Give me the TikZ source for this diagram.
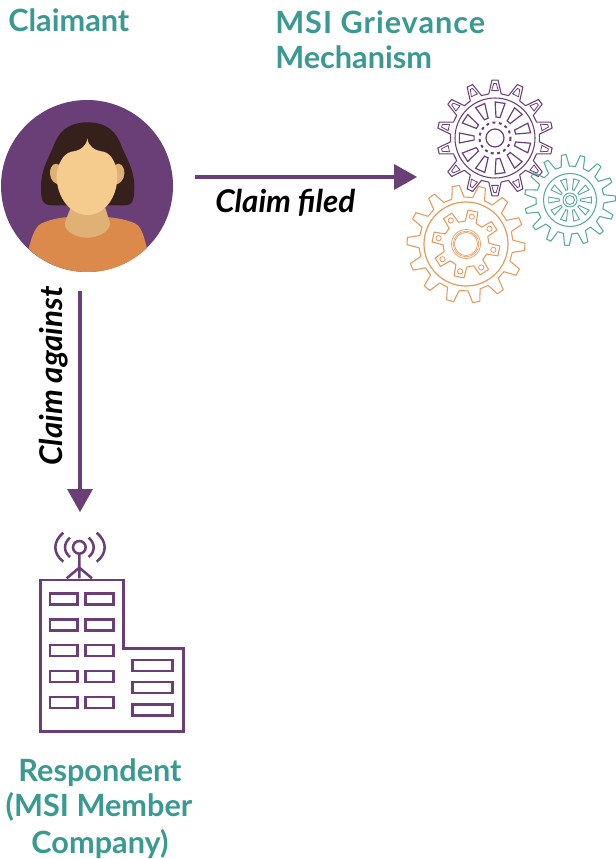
\documentclass[tikz,border=0pt]{standalone}
\usepackage{fontspec}
\setmainfont{Lato}
\definecolor{pur}{HTML}{6A3F77}
\definecolor{teal2}{HTML}{3A9A92}
\definecolor{org}{HTML}{E39A5F}
\definecolor{body}{HTML}{DC8A4B}
\definecolor{hair}{HTML}{36201B}
\definecolor{face}{HTML}{F5CB8E}
\definecolor{skin}{HTML}{E0B177}
\tikzset{
  flow/.style={pur,line width=3.7pt},
  head/.style={fill=pur,draw=none},
  title/.style={font=\bfseries\fontsize{23}{26}\selectfont,text=teal2,inner sep=0pt},
  lab/.style={font=\bfseries\itshape\fontsize{23.5}{26}\selectfont,text=black,inner sep=0pt},
  bld/.style={pur,line width=2.2pt,line join=miter},
  ant/.style={pur,line width=1.9pt},
}
% #1 centre, #2 teeth, #3 root r, #4 tip r, #5 phase, #6 root half angle, #7 tip half angle, #8 style
\newcommand{\gearline}[8]{%
  \begin{scope}[shift={#1}]
  \draw[#8] ({#5-#6}:#3)
    \foreach \k [evaluate=\k as \a using #5+\k*360/#2] in {0,...,\numexpr#2-1\relax}{
      -- ({\a-#6}:#3) -- ({\a-#7}:#4) -- ({\a+#7}:#4) -- ({\a+#6}:#3)
    } -- cycle;
  \end{scope}}
\newcommand{\spokes}[8]{%
  \begin{scope}[shift={#1}]
  \foreach \k [evaluate=\k as \a using #5+\k*360/#2] in {0,...,\numexpr#2-1\relax}{
    \draw[#8] ({\a-#6}:#3) -- ({\a-#7}:#4) -- ({\a+#7}:#4) -- ({\a+#6}:#3) -- cycle;
  }
  \end{scope}}
\begin{document}
\begin{tikzpicture}[x=0.75pt,y=-0.75pt]
\useasboundingbox (0,0) rectangle (615,859);
% labels
\node[title,anchor=base west] (tClaimant) at (8,32) {Claimant};
\node[title,anchor=base west] (tMsiA) at (275,34) {\addfontfeatures{LetterSpace=3.2}MSI Grievance};
\node[title,anchor=base west] (tMsiB) at (275,69) {Mechanism};
\node[title,anchor=base] (tResA) at (100,781) {Respondent};
\node[title,anchor=base] (tResB) at (99,816) {(MSI Member};
\node[title,anchor=base] (tResC) at (100,853) {Company)};
\node[lab,anchor=base west] (lFiled) at (215,213) {Claim filed};
\node[lab,anchor=base,rotate=90] (lAgainst) at (62,376) {Claim against};
% person
\node[circle,fill=pur,minimum size=129pt,inner sep=0pt] (claimant) at (87,186) {};
\begin{scope}[shift={(0,90)},x=0.25pt,y=-0.25pt]
\begin{scope}
\clip (262,288) circle (258);
\path[fill=body] (85,480) .. controls (95,440) and (105,410) .. (125,400) .. controls (160,385) and (190,380) .. (262,378) .. controls (330,380) and (370,385) .. (405,400) .. controls (425,410) and (432,440) .. (442,480) -- (442,560) -- (85,560) -- cycle;
\end{scope}
\path[fill=hair] (262,97) .. controls (205,97) and (175,125) .. (160,170) .. controls (145,205) and (123,240) .. (123,290) .. controls (123,325) and (125,346) .. (155,346) -- (375,346) .. controls (400,346) and (403,325) .. (403,290) .. controls (403,240) and (380,205) .. (365,170) .. controls (350,125) and (320,97) .. (262,97) -- cycle;
\path[fill=skin] (213,350) -- (315,350) -- (330,400) .. controls (330,425) and (295,443) .. (262,443) .. controls (228,443) and (194,425) .. (194,400) -- cycle;
\path[fill=skin] (150,250) .. controls (150,225) and (165,215) .. (178,225) -- (185,285) .. controls (165,285) and (150,270) .. (150,250) -- cycle;
\path[fill=skin] (373,250) .. controls (373,225) and (358,215) .. (345,225) -- (340,285) .. controls (358,285) and (373,270) .. (373,250) -- cycle;
\path[fill=face] (262,145) .. controls (265,170) and (285,182) .. (310,185) .. controls (335,190) and (352,225) .. (352,260) .. controls (352,320) and (315,375) .. (262,375) .. controls (210,375) and (170,320) .. (170,260) .. controls (170,225) and (190,190) .. (215,185) .. controls (240,182) and (259,170) .. (262,145) -- cycle;
\end{scope}
% connectors
\coordinate (aStart) at (195,177);
\coordinate (aEnd) at (394,177);
\coordinate (bStart) at (80,291);
\coordinate (bEnd) at (80,489);
\draw[flow] (aStart) -- (aEnd);
\path[head] (aEnd) ++(0,-13) -- ++(23,13) -- ++(-23,13) -- cycle;
\draw[flow] (bStart) -- (bEnd);
\path[head] (bEnd) ++(-13,0) -- ++(13,23) -- ++(13,-23) -- cycle;
% purple gear
\gearline{(495,138)}{14}{44.5}{58}{-90}{8}{3}{pur,line width=.8pt,line join=round}
\spokes{(495,138)}{14}{47.5}{54.5}{-90}{4}{1.3}{pur,line width=.6pt}
\draw[pur,line width=.8pt] (495,138) circle (40);
\spokes{(495,138)}{11}{21}{36}{180}{5.5}{8}{pur,line width=.9pt}
\draw[pur,line width=1.5pt,dash pattern=on 2.2pt off 2.6pt] (495,138) circle (15.5);
\draw[pur,line width=.9pt] (495,138) circle (9);
% teal gear
\gearline{(570,200)}{15}{34}{45.5}{-98}{7}{3}{teal2!85!white,line width=.8pt,line join=round}
\draw[teal2!85!white,line width=.8pt] (570,200) circle (26.5);
\spokes{(570,200)}{10}{10.5}{21.5}{-72}{5}{8}{teal2!85!white,line width=.7pt}
\draw[teal2!85!white,line width=.7pt] (570,200) circle (7) (570,200) circle (4.5);
% orange gear
\gearline{(466,244)}{14}{47}{59}{-100}{7.5}{3.5}{org,line width=.8pt,line join=round}
\draw[org,line width=.9pt] (466,244) circle (42);
\gearline{(466,244)}{8}{23}{34}{-123}{14}{8.5}{org,line width=.8pt,line join=round}
\foreach \k [evaluate=\k as \a using -123+\k*45] in {0,...,7}{
  \draw[org,line width=.6pt] (466,244) ++(\a:28) circle (2.6);
}
\draw[org,line width=.5pt] (466,244) circle (14.5) (466,244) circle (12.8);
\draw[org,line width=.5pt] (466,244) circle (11.5);
% building
\begin{scope}[shift={(30,525)},x=0.25pt,y=-0.25pt]
\draw[bld] (32,165) -- (280,165) -- (280,370) -- (461,370) -- (461,620) -- (32,620) -- cycle;
\foreach \y in {205,283,360,438,516}{
  \draw[bld] (60,\y) rectangle (143,\y+33);
  \draw[bld] (167,\y) rectangle (250,\y+33);
}
\foreach \y in {405,471,538}{
  \draw[bld] (307,\y) rectangle (428,\y+33);
}
\draw[ant] (148,67) circle (19);
\draw[ant] (148,88) -- (148,160) (148,128) -- (110,160) (148,128) -- (186,160);
\draw[ant] (120,38) .. controls (100,55) and (100,80) .. (120,96);
\draw[ant] (100,23) .. controls (68,50) and (68,85) .. (100,110);
\draw[ant] (176,38) .. controls (196,55) and (196,80) .. (176,96);
\draw[ant] (200,23) .. controls (232,50) and (232,85) .. (200,110);
\end{scope}
\end{tikzpicture}
\end{document}
